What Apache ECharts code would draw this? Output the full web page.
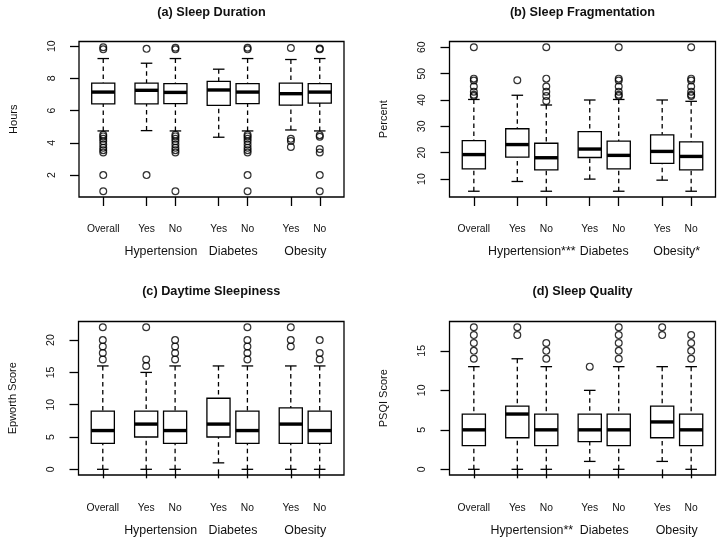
<!DOCTYPE html>
<html>
<head>
<meta charset="utf-8">
<script src="https://cdn.jsdelivr.net/npm/echarts@6/dist/echarts.min.js"></script>
<style>html,body{margin:0;padding:0;background:#fff}#c{width:724px;height:544px}</style>
</head>
<body>
<div id="c"></div>
<script>
// ---- data ----
const positions = [1, 2.5, 3.5, 5, 6, 7.5, 8.5];
const tickLabels = ['Overall', 'Yes', 'No', 'Yes', 'No', 'Yes', 'No'];
const groupPositions = [3, 5.5, 8];

const titles = ['(a) Sleep Duration', '(b) Sleep Fragmentation', '(c) Daytime Sleepiness', '(d) Sleep Quality'];
const yNames = ['Hours', 'Percent', 'Epworth Score', 'PSQI Score'];
const groupLabelsA = ['Hypertension', 'Diabetes', 'Obesity'];
const groupLabelsB = ['Hypertension***', 'Diabetes', 'Obesity*'];
const groupLabelsC = ['Hypertension', 'Diabetes', 'Obesity'];
const groupLabelsD = ['Hypertension**', 'Diabetes', 'Obesity'];

const yTicksA = [2, 4, 6, 8, 10];
const yTicksB = [10, 20, 30, 40, 50, 60];
const yTicksC = [0, 5, 10, 15, 20];
const yTicksD = [0, 5, 10, 15];

// [lower whisker, Q1, median, Q3, upper whisker]
const statsA = [
  [4.74, 6.42, 7.15, 7.71, 9.23],
  [4.76, 6.42, 7.26, 7.71, 8.94],
  [4.74, 6.44, 7.13, 7.67, 9.23],
  [4.35, 6.32, 7.28, 7.82, 8.57],
  [4.74, 6.44, 7.15, 7.67, 9.23],
  [4.80, 6.34, 7.05, 7.71, 9.17],
  [4.74, 6.47, 7.15, 7.67, 9.23]
];
const outliersA = [
  [9.93, 9.8, 4.5, 4.4, 4.25, 4.1, 3.9, 3.7, 3.55, 3.4, 2.0, 1.0],
  [9.83, 2.0],
  [9.9, 9.8, 4.5, 4.4, 4.25, 4.1, 3.9, 3.7, 3.55, 3.4, 1.0],
  [],
  [9.9, 9.8, 4.5, 4.4, 4.25, 4.1, 3.9, 3.7, 3.55, 3.4, 2.0, 1.0],
  [9.88, 4.25, 4.12, 3.75],
  [9.85, 9.8, 4.48, 4.38, 3.62, 3.4, 2.0, 1.0]
];

const statsB = [
  [5.4, 13.85, 19.3, 24.6, 40.2],
  [9.1, 18.3, 23.1, 29.1, 41.8],
  [5.4, 13.5, 18.1, 23.6, 38.1],
  [10.0, 18.2, 21.4, 28.0, 40.0],
  [5.4, 13.85, 19.0, 24.4, 40.2],
  [9.6, 16.0, 20.5, 26.8, 40.0],
  [5.4, 13.5, 18.6, 24.1, 39.5]
];
const outliersB = [
  [60, 48.1, 47.4, 45.1, 43.1, 42, 41.5],
  [47.5],
  [60, 48.1, 45.1, 43.1, 41.5, 39.6],
  [],
  [60, 48.1, 47.4, 45.1, 43.1, 42, 41.5],
  [],
  [60, 48.1, 47.4, 45.1, 43.1, 42, 41.5]
];

const statsC = [
  [0, 4, 6, 9, 16],
  [0, 5, 7, 9, 15],
  [0, 4, 6, 9, 16],
  [1, 5, 7, 11, 16],
  [0, 4, 6, 9, 16],
  [0, 4, 7, 9.5, 16],
  [0, 4, 6, 9, 16]
];
const outliersC = [
  [22, 20, 19, 18, 17],
  [22, 17, 16],
  [20, 19, 18, 17],
  [],
  [22, 20, 19, 18, 17],
  [22, 20, 19],
  [20, 18, 17]
];

const statsD = [
  [0, 3, 5, 7, 13],
  [0, 4, 7, 8, 14],
  [0, 3, 5, 7, 13],
  [1, 3.5, 5, 7, 10],
  [0, 3, 5, 7, 13],
  [1, 4, 6, 8, 13],
  [0, 3, 5, 7, 13]
];
const outliersD = [
  [18, 17, 16, 15, 14],
  [18, 17],
  [16, 15, 14],
  [13],
  [18, 17, 16, 15, 14],
  [18, 17],
  [17, 16, 15, 14]
];

// ---- layout / style ----
const FONT = 'Liberation Sans, Arial, sans-serif';
const TXT = '#111';
const grids = [
  {left: 79, top: 41.5, width: 265, height: 155.5},
  {left: 449.5, top: 41.5, width: 266, height: 155.5},
  {left: 78.5, top: 321.5, width: 265.5, height: 153.5},
  {left: 449.5, top: 321.5, width: 266, height: 153.5}
];
const labelMargins = [27.5, 27.5, 28.5, 28.5];
const groupMargins = [48.5, 48.5, 49.5, 49.5];
const panels = [
  {stats: statsA, outs: outliersA, ticks: yTicksA, groups: groupLabelsA},
  {stats: statsB, outs: outliersB, ticks: yTicksB, groups: groupLabelsB},
  {stats: statsC, outs: outliersC, ticks: yTicksC, groups: groupLabelsC},
  {stats: statsD, outs: outliersD, ticks: yTicksD, groups: groupLabelsD}
];

const BOX_HALF = 0.4, STAPLE_HALF = 0.2;
const xMin = 0.5 - 0.04 * (positions[positions.length - 1] + 0.5 - 0.5);
const xMax = positions[positions.length - 1] + 0.5 + 0.04 * (positions[positions.length - 1]);

function yRange(stats, outs) {
  let lo = Infinity, hi = -Infinity;
  stats.forEach(s => { lo = Math.min(lo, s[0]); hi = Math.max(hi, s[4]); });
  outs.forEach(o => o.forEach(v => { lo = Math.min(lo, v); hi = Math.max(hi, v); }));
  const d = hi - lo;
  return [lo - 0.04 * d, hi + 0.04 * d];
}

function renderBox(params, api) {
  const x = api.value(0);
  const lo = api.value(1), q1 = api.value(2), md = api.value(3), q3 = api.value(4), hi = api.value(5);
  const cx = api.coord([x, md])[0];
  const bl = api.coord([x - BOX_HALF, q3])[0];
  const br = api.coord([x + BOX_HALF, q3])[0];
  const sl = api.coord([x - STAPLE_HALF, hi])[0];
  const sr = api.coord([x + STAPLE_HALF, hi])[0];
  const yLo = api.coord([x, lo])[1], yQ1 = api.coord([x, q1])[1], yMd = api.coord([x, md])[1];
  const yQ3 = api.coord([x, q3])[1], yHi = api.coord([x, hi])[1];
  const solid = {stroke: '#000', lineWidth: 1.3, fill: null};
  const dashed = {stroke: '#000', lineWidth: 1.3, lineDash: [4.5, 3.5]};
  return {
    type: 'group',
    children: [
      {type: 'line', shape: {x1: cx, y1: yHi, x2: cx, y2: yQ3}, style: dashed},
      {type: 'line', shape: {x1: cx, y1: yLo, x2: cx, y2: yQ1}, style: dashed},
      {type: 'line', shape: {x1: sl, y1: yHi, x2: sr, y2: yHi}, style: solid},
      {type: 'line', shape: {x1: sl, y1: yLo, x2: sr, y2: yLo}, style: solid},
      {type: 'rect', shape: {x: bl, y: yQ3, width: br - bl, height: yQ1 - yQ3}, style: {stroke: '#000', lineWidth: 1.3, fill: '#fff'}},
      {type: 'line', shape: {x1: bl, y1: yMd, x2: br, y2: yMd}, style: {stroke: '#000', lineWidth: 3.4}}
    ]
  };
}

const option = {
  animation: false,
  backgroundColor: '#fff',
  grid: grids.map(g => Object.assign({show: true, borderColor: '#000', borderWidth: 1.3, backgroundColor: 'transparent'}, g)),
  xAxis: [],
  yAxis: [],
  series: [],
  graphic: []
};

panels.forEach((p, i) => {
  const yr = yRange(p.stats, p.outs);
  option.xAxis.push({
    type: 'value', gridIndex: i, min: xMin, max: xMax, position: 'bottom',
    axisLine: {show: false}, splitLine: {show: false},
    axisTick: {show: true, length: 9, customValues: positions, lineStyle: {color: '#000', width: 1.3}},
    axisLabel: {show: true, customValues: positions, margin: labelMargins[i], fontFamily: FONT, fontSize: 10.3, color: TXT,
      formatter: v => { const k = positions.indexOf(v); return k >= 0 ? tickLabels[k] : ''; }}
  });
  option.xAxis.push({
    type: 'value', gridIndex: i, min: xMin, max: xMax, position: 'bottom',
    axisLine: {show: false}, splitLine: {show: false},
    axisTick: {show: false, customValues: groupPositions},
    axisLabel: {show: true, customValues: groupPositions, margin: groupMargins[i], fontFamily: FONT, fontSize: 12.4, color: TXT,
      formatter: v => { const k = groupPositions.indexOf(v); return k >= 0 ? p.groups[k] : ''; }}
  });
  option.yAxis.push({
    type: 'value', gridIndex: i, min: yr[0], max: yr[1],
    name: yNames[i], nameLocation: 'middle', nameGap: 60,
    nameTextStyle: {fontFamily: FONT, fontSize: 11, color: TXT},
    axisLine: {show: false}, splitLine: {show: false},
    axisTick: {show: true, length: 9, customValues: p.ticks, lineStyle: {color: '#000', width: 1.3}},
    axisLabel: {show: true, customValues: p.ticks, rotate: 90, margin: 21.5, fontFamily: FONT, fontSize: 10.5, color: TXT}
  });
  option.series.push({
    type: 'custom', xAxisIndex: i * 2, yAxisIndex: i, renderItem: renderBox,
    encode: {x: 0, y: [1, 2, 3, 4, 5]},
    data: p.stats.map((s, k) => [positions[k]].concat(s)), z: 2
  });
  const pts = [];
  p.outs.forEach((o, k) => o.forEach(v => pts.push([positions[k], v])));
  option.series.push({
    type: 'scatter', xAxisIndex: i * 2, yAxisIndex: i, data: pts, symbol: 'circle', symbolSize: 6.8,
    itemStyle: {color: 'rgba(0,0,0,0)', borderColor: '#000', borderWidth: 1.2}, z: 3, silent: true
  });
  const g = grids[i];
  option.graphic.push({
    type: 'text', x: g.left + g.width / 2, y: i < 2 ? 12.5 : 291.5,
    style: {text: titles[i], font: 'bold 12.7px ' + FONT, fill: TXT, align: 'center', verticalAlign: 'middle'}
  });
});

const chart = echarts.init(document.getElementById('c'), null, {renderer: 'canvas'});
chart.setOption(option);
</script>
</body>
</html>
